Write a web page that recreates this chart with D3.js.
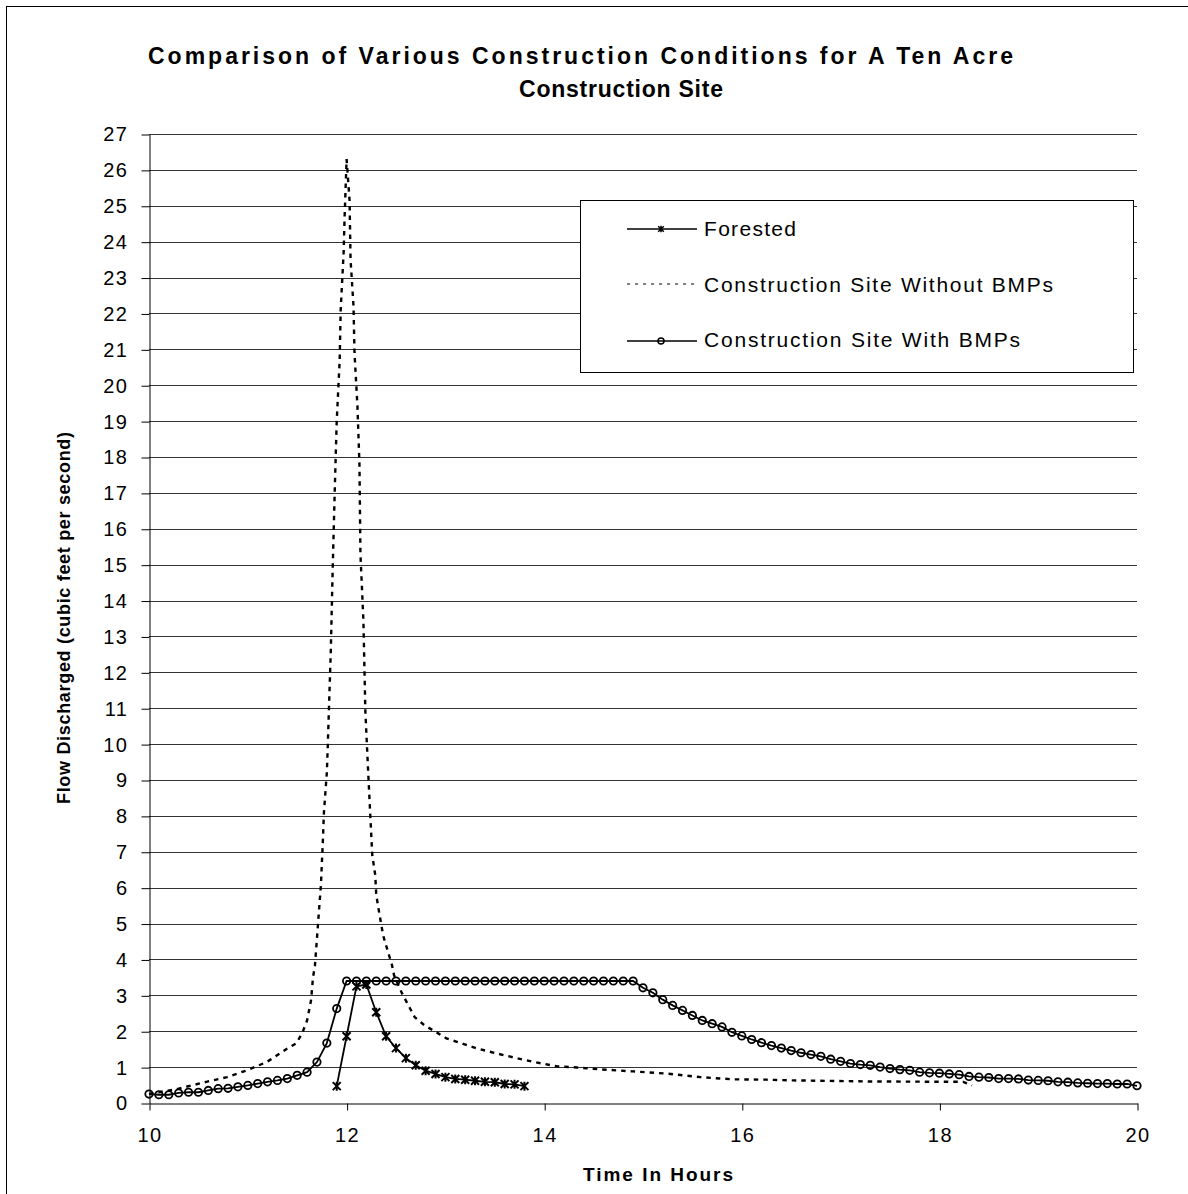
<!DOCTYPE html>
<html>
<head>
<meta charset="utf-8">
<script src="https://cdn.jsdelivr.net/npm/d3@7/dist/d3.min.js"></script>
<style>
  html, body { margin: 0; padding: 0; background: #fff; }
  svg { display: block; }
  text { font-family: "Liberation Sans", Arial, sans-serif; fill: #000; }
</style>
</head>
<body>
<svg id="chart" width="1188" height="1194"></svg>
<script>
// ---- Data -------------------------------------------------------------
const titleLines = ["Comparison of Various Construction Conditions for A Ten Acre", "Construction Site"];
const xAxisTitle = "Time In Hours";
const yAxisTitle = "Flow Discharged (cubic feet per second)";
const seriesNames = ["Forested", "Construction Site Without BMPs", "Construction Site With BMPs"];

const xTickValues = [10, 12, 14, 16, 18, 20];
const yTickValues = [0, 1, 2, 3, 4, 5, 6, 7, 8, 9, 10, 11, 12, 13, 14, 15, 16, 17, 18, 19, 20, 21, 22, 23, 24, 25, 26, 27];

// Forested: hydrograph sampled every 0.1 hour from 11.9 to 13.8
const forestedTimes = [11.9, 12.0, 12.1, 12.2, 12.3, 12.4, 12.5, 12.6, 12.7, 12.8,
                       12.9, 13.0, 13.1, 13.2, 13.3, 13.4, 13.5, 13.6, 13.7, 13.8];
const forestedFlow  = [0.47, 1.86, 3.25, 3.30, 2.53, 1.86, 1.53, 1.25, 1.05, 0.90,
                       0.81, 0.72, 0.67, 0.65, 0.62, 0.59, 0.58, 0.53, 0.52, 0.47];

// Construction site without BMPs (no markers)
const noBmpTimes = [10.0, 10.3, 10.58, 10.79, 10.99, 11.19, 11.4, 11.49, 11.55, 11.6,
                    11.64, 11.66, 11.68, 11.7, 11.72, 11.74, 11.76, 11.77, 11.8, 11.81,
                    11.84, 11.86, 11.88, 11.9, 11.93, 11.94, 11.97, 11.98, 12.0, 12.03,
                    12.04, 12.07, 12.08, 12.11, 12.13, 12.14, 12.17, 12.19, 12.22, 12.24,
                    12.26, 12.29, 12.3, 12.33, 12.37, 12.42, 12.46, 12.48, 12.56, 12.69,
                    12.79, 12.91, 13.01, 13.22, 13.32, 13.52, 13.72, 13.92, 14.13, 14.33,
                    14.56, 14.9, 15.24, 15.58, 15.91, 16.25, 16.52, 17.3, 18.24, 18.33];
const noBmpFlow  = [0.25, 0.40, 0.59, 0.72, 0.91, 1.14, 1.52, 1.66, 1.94, 2.30,
                    2.86, 3.50, 3.84, 4.59, 5.34, 6.07, 7.32, 8.07, 9.21, 10.0,
                    12.6, 14.97, 17.06, 19.0, 20.7, 22.1, 23.7, 24.7, 26.3, 25.15,
                    23.5, 22.2, 20.9, 19.4, 17.8, 15.3, 13.45, 10.9, 9.13, 8.0,
                    6.9, 6.35, 5.8, 5.3, 4.67, 4.2, 3.84, 3.56, 3.06, 2.39,
                    2.16, 1.97, 1.80, 1.61, 1.52, 1.38, 1.25, 1.13, 1.02, 0.99,
                    0.94, 0.88, 0.82, 0.72, 0.66, 0.65, 0.63, 0.60, 0.59, 0.49];

// Construction site with BMPs: every 0.1 hour from 10.0 to 20.0
const bmpTimes = d3.range(0, 101).map(i => +(10 + i / 10).toFixed(1));
const bmpFlow = [
  0.25, 0.23, 0.23, 0.28, 0.30, 0.30, 0.35, 0.40, 0.41, 0.45,
  0.49, 0.54, 0.59, 0.63, 0.68, 0.77, 0.86, 1.14, 1.67, 2.63,
  3.40, 3.40, 3.40, 3.40, 3.40, 3.40, 3.40, 3.40, 3.40, 3.40,
  3.40, 3.40, 3.40, 3.40, 3.40, 3.40, 3.40, 3.40, 3.40, 3.40,
  3.40, 3.40, 3.40, 3.40, 3.40, 3.40, 3.40, 3.40, 3.40, 3.40,
  3.21, 3.07, 2.88, 2.72, 2.58, 2.44, 2.30, 2.21, 2.12, 1.97,
  1.87, 1.77, 1.68, 1.60, 1.53, 1.46, 1.40, 1.35, 1.30, 1.22,
  1.16, 1.10, 1.07, 1.05, 1.00, 0.96, 0.93, 0.91, 0.86, 0.84,
  0.83, 0.81, 0.79, 0.74, 0.72, 0.71, 0.68, 0.68, 0.67, 0.64,
  0.63, 0.62, 0.59, 0.58, 0.56, 0.55, 0.54, 0.54, 0.53, 0.53,
  0.48
];

// ---- Layout -----------------------------------------------------------
const svg = d3.select("#chart");
const plot = { left: 149, right: 1137, top: 134, bottom: 1103 };

const x = d3.scaleLinear().domain([10, 20]).range([plot.left, plot.right]);
const y = d3.scaleLinear().domain([0, 27]).range([plot.bottom, plot.top]);

// outer chart frame
svg.append("rect")
  .attr("x", 6.5).attr("y", 6.5).attr("width", 1200).attr("height", 1200)
  .attr("fill", "none").attr("stroke", "#000").attr("stroke-width", 1);

// title
const titleG = svg.append("g").attr("font-weight", "bold").attr("font-size", 23);
titleG.append("text").attr("x", 148).attr("y", 64)
  .attr("textLength", 865).attr("lengthAdjust", "spacing").text(titleLines[0]);
titleG.append("text").attr("x", 519).attr("y", 97)
  .attr("textLength", 204).attr("lengthAdjust", "spacing").text(titleLines[1]);

// horizontal gridlines
svg.append("g")
  .selectAll("line")
  .data(yTickValues.filter(v => v > 0))
  .join("line")
  .attr("x1", plot.left).attr("x2", plot.right)
  .attr("y1", d => Math.round(y(d)) + 0.5).attr("y2", d => Math.round(y(d)) + 0.5)
  .attr("stroke", "#333").attr("stroke-width", 1);

// y axis
const yAxis = svg.append("g")
  .attr("transform", `translate(${plot.left + 0.5},0.5)`)
  .call(d3.axisLeft(y).tickValues(yTickValues).tickSize(8).tickSizeOuter(0).tickPadding(13));
yAxis.select(".domain").attr("stroke", "#000");
yAxis.selectAll(".tick line").attr("stroke", "#000");
yAxis.selectAll(".tick text")
  .attr("font-family", "\"Liberation Sans\", Arial, sans-serif")
  .attr("font-size", 20).attr("letter-spacing", 1.5).attr("fill", "#000");

// x axis
const xAxis = svg.append("g")
  .attr("transform", `translate(0.5,${plot.bottom + 0.5})`)
  .call(d3.axisBottom(x).tickValues(xTickValues).tickSize(7).tickSizeOuter(0).tickPadding(17));
xAxis.select(".domain").attr("stroke", "#000");
xAxis.selectAll(".tick line").attr("stroke", "#000");
xAxis.selectAll(".tick text")
  .attr("font-family", "\"Liberation Sans\", Arial, sans-serif")
  .attr("font-size", 20).attr("letter-spacing", 1.5).attr("fill", "#000");

// axis titles
svg.append("text")
  .attr("x", 658).attr("y", 1181).attr("text-anchor", "middle")
  .attr("font-weight", "bold").attr("font-size", 19)
  .attr("textLength", 150).attr("lengthAdjust", "spacing")
  .text(xAxisTitle);

svg.append("text")
  .attr("transform", "translate(70,618) rotate(-90)")
  .attr("text-anchor", "middle")
  .attr("font-weight", "bold").attr("font-size", 18)
  .attr("textLength", 372).attr("lengthAdjust", "spacing")
  .text(yAxisTitle);

// ---- Series -------------------------------------------------------------
const line = d3.line().x(d => x(d[0])).y(d => y(d[1]));
const zip = (a, b) => a.map((t, i) => [t, b[i]]);

const forested = zip(forestedTimes, forestedFlow);
const noBmp = zip(noBmpTimes, noBmpFlow);
const bmp = zip(bmpTimes, bmpFlow);

const starPath = s => `M${-s},${-s}L${s},${s}M${-s},${s}L${s},${-s}M0,${-s - 0.5}L0,${s + 0.5}`;

// without BMPs: dashed
svg.append("path")
  .datum(noBmp)
  .attr("d", line)
  .attr("fill", "none").attr("stroke", "#000")
  .attr("stroke-width", 2.4).attr("stroke-dasharray", "4.5,5");

// with BMPs: solid line with open circles
svg.append("path")
  .datum(bmp)
  .attr("d", line)
  .attr("fill", "none").attr("stroke", "#000").attr("stroke-width", 1.8);
svg.append("g")
  .selectAll("circle")
  .data(bmp)
  .join("circle")
  .attr("cx", d => x(d[0])).attr("cy", d => y(d[1])).attr("r", 3.7)
  .attr("fill", "none").attr("stroke", "#000").attr("stroke-width", 1.8);

// forested: solid line with asterisks
svg.append("path")
  .datum(forested)
  .attr("d", line)
  .attr("fill", "none").attr("stroke", "#000").attr("stroke-width", 1.8);
svg.append("g")
  .selectAll("path")
  .data(forested)
  .join("path")
  .attr("transform", d => `translate(${x(d[0])},${y(d[1])})`)
  .attr("d", starPath(4))
  .attr("fill", "none").attr("stroke", "#000").attr("stroke-width", 2);

// ---- Legend -------------------------------------------------------------
const legend = svg.append("g");
legend.append("rect")
  .attr("x", 580.5).attr("y", 200.5).attr("width", 553).attr("height", 172)
  .attr("fill", "#fff").attr("stroke", "#000").attr("stroke-width", 1);

const legendRows = [
  { name: seriesNames[0], lineY: 229, textY: 236, width: 92, kind: "star" },
  { name: seriesNames[1], lineY: 284, textY: 292, width: 349, kind: "dash" },
  { name: seriesNames[2], lineY: 341, textY: 347, width: 316, kind: "circle" }
];
legendRows.forEach(r => {
  legend.append("line")
    .attr("x1", 627).attr("x2", 697).attr("y1", r.lineY).attr("y2", r.lineY)
    .attr("stroke", "#000")
    .attr("stroke-width", r.kind === "dash" ? 1 : 1.7)
    .attr("stroke-dasharray", r.kind === "dash" ? "3,5" : null);
  if (r.kind === "star") {
    legend.append("path")
      .attr("transform", `translate(661,${r.lineY})`)
      .attr("d", starPath(2.8))
      .attr("fill", "none").attr("stroke", "#000").attr("stroke-width", 1.5);
  } else if (r.kind === "circle") {
    legend.append("circle")
      .attr("cx", 661).attr("cy", r.lineY).attr("r", 3)
      .attr("fill", "none").attr("stroke", "#000").attr("stroke-width", 1.5);
  }
  legend.append("text")
    .attr("x", 704).attr("y", r.textY)
    .attr("font-size", 21)
    .attr("textLength", r.width).attr("lengthAdjust", "spacing")
    .text(r.name);
});
</script>
</body>
</html>
